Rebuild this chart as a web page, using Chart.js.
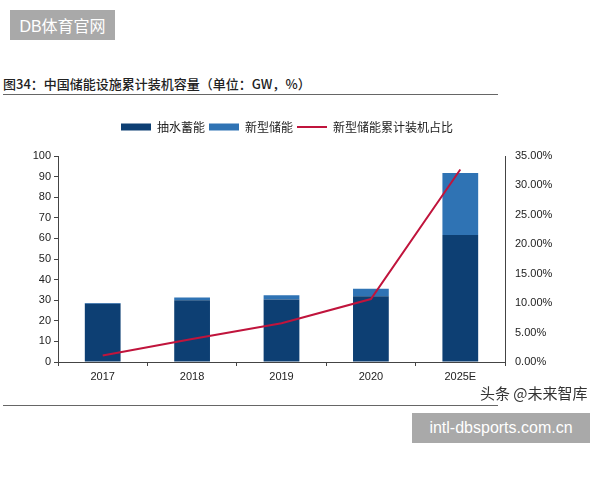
<!DOCTYPE html>
<html><head><meta charset="utf-8">
<script src="https://cdn.jsdelivr.net/npm/chart.js@4.4.1/dist/chart.umd.min.js"></script>
<style>
html,body{margin:0;padding:0;background:#fff;width:600px;height:480px;overflow:hidden;font-family:"Noto Sans CJK SC","Liberation Sans",sans-serif;}
.wm{position:absolute;background:#a9a9a9;color:#fff;font-family:"Liberation Sans","Noto Sans CJK SC",sans-serif;display:flex;align-items:center;justify-content:center;}
#wm1{left:10px;top:10px;width:105px;height:30px;font-size:16px;}
#wm2{left:412px;top:413px;width:178px;height:30px;font-size:16px;}
#title{position:absolute;left:3px;top:74px;font-size:13px;color:#222;white-space:nowrap;font-family:"Noto Sans CJK SC",sans-serif;font-weight:500;}
.rule{position:absolute;left:3px;width:495px;height:1px;background:#666;}
#src{position:absolute;left:480px;top:382px;font-size:15px;color:#333;white-space:nowrap;}
#box{position:absolute;left:0;top:110px;width:600px;height:280px;}
</style></head>
<body>
<div class="wm" id="wm1">DB体育官网</div>
<div id="title">图34：中国储能设施累计装机容量（单位：GW，%）</div>
<div class="rule" style="top:94px"></div>
<div id="box"><canvas id="c"></canvas></div>
<div id="src">头条 @未来智库</div>
<div class="rule" style="top:405px"></div>
<div class="wm" id="wm2">intl-dbsports.com.cn</div>
<script>
const categories = ['2017', '2018', '2019', '2020', '2025E'];
const pumpedHydro = [28.3, 30.0, 30.3, 31.9, 61.7];
const newStorage = [0.4, 1.3, 2.1, 3.7, 30.1];
const newShare = [1.1, 3.9, 6.6, 10.7, 32.7];
const seriesNames = ['抽水蓄能', '新型储能', '新型储能累计装机占比'];

const tickFont = {family: '"Liberation Sans", Arial, sans-serif', size: 11};
const legendSpacer = {
  id: 'legendSpacer',
  beforeInit(chart) {
    const origFit = chart.legend.fit;
    chart.legend.fit = function () { origFit.call(this); this.height += 13; };
  }
};
new Chart(document.getElementById('c'), {
  data: {
    labels: categories,
    datasets: [
      {type: 'bar', label: seriesNames[0], data: pumpedHydro, yAxisID: 'y', backgroundColor: '#0d3f73', stack: 's', categoryPercentage: 1, barPercentage: 0.4, order: 1},
      {type: 'bar', label: seriesNames[1], data: newStorage, yAxisID: 'y', backgroundColor: '#2f73b4', stack: 's', categoryPercentage: 1, barPercentage: 0.4, order: 2},
      {type: 'line', label: seriesNames[2], data: newShare, yAxisID: 'y1', borderColor: '#c0143c', backgroundColor: '#c0143c', borderWidth: 2, pointRadius: 0, tension: 0, order: 0}
    ]
  },
  plugins: [legendSpacer],
  options: {
    responsive: true, maintainAspectRatio: false, animation: false,
    layout: {padding: {left: 0, right: 26, top: 7, bottom: 0}},
    plugins: {
      tooltip: {enabled: false},
      legend: {
        position: 'top',
        labels: {
          font: {family: '"Noto Sans CJK SC", sans-serif', size: 12}, color: '#222',
          usePointStyle: true, pointStyleWidth: 30, boxWidth: 30, boxHeight: 7, padding: 4,
          generateLabels(chart) {
            return chart.data.datasets.map((ds, i) => ({
              text: ds.label, fillStyle: ds.backgroundColor,
              strokeStyle: ds.type === 'line' ? ds.borderColor : ds.backgroundColor,
              lineWidth: ds.type === 'line' ? 2 : 0,
              pointStyle: ds.type === 'line' ? 'line' : 'rect',
              hidden: false, datasetIndex: i, fontColor: '#222'
            }));
          }
        }
      }
    },
    scales: {
      x: {
        stacked: true, offset: true,
        grid: {display: true, drawOnChartArea: false, offset: true, tickLength: 4, color: '#444'},
        border: {display: true, color: '#444', width: 1},
        ticks: {font: tickFont, color: '#222', padding: 4},
        afterFit(s) { s.height = 28; }
      },
      y: {
        stacked: true, position: 'left', min: 0, max: 100,
        grid: {display: true, drawOnChartArea: false, tickLength: 4, color: '#444'},
        border: {display: true, color: '#444', width: 1},
        ticks: {stepSize: 10, font: tickFont, color: '#222', padding: 3},
        afterFit(s) { s.width = 58; }
      },
      y1: {
        position: 'right', min: 0, max: 35,
        grid: {display: false},
        border: {display: true, color: '#444', width: 1},
        ticks: {stepSize: 5, font: tickFont, color: '#222', padding: 2, callback: v => v.toFixed(2) + '%'},
        afterFit(s) { s.width = 69; }
      }
    }
  }
});
</script>
</body></html>
